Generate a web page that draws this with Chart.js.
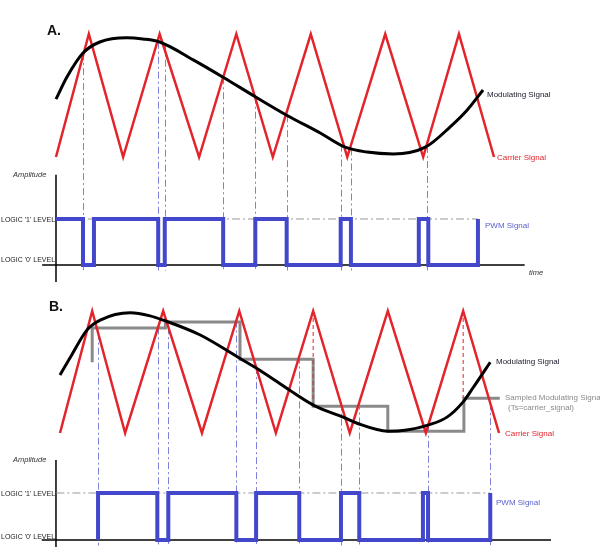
<!DOCTYPE html>
<html>
<head>
<meta charset="utf-8">
<script src="https://cdn.jsdelivr.net/npm/chart.js@4"></script>
<style>
  body { margin: 0; width: 600px; height: 547px; overflow: hidden; background: #fff; position: relative;
         font-family: 'Liberation Sans', Arial, sans-serif; }
  canvas { position: absolute; left: 0; }
  #chartA { top: 0; }
  #chartB { top: 280px; }
  .lbl { position: absolute; white-space: nowrap; transform: translateY(-50%); line-height: 1; z-index: 2; }
  .head { font-weight: bold; font-size: 14px; color: #111; }
  .small { font-size: 8px; }
  .amp { font-size: 7.5px; font-style: italic; color: #333; }
  .lvl { font-size: 7px; color: #222; }
</style>
</head>
<body>
<canvas id="chartA" width="600" height="285"></canvas>
<canvas id="chartB" width="600" height="267"></canvas>

<div class="lbl head" style="left:47px;top:30px">A.</div>
<div class="lbl small" style="left:487px;top:95px;color:#1a1a2a">Modulating Signal</div>
<div class="lbl small" style="left:497px;top:158px;color:#e3242b">Carrier Signal</div>
<div class="lbl amp" style="left:13px;top:175px">Amplitude</div>
<div class="lbl lvl" style="left:1px;top:219px">LOGIC '1' LEVEL</div>
<div class="lbl lvl" style="left:1px;top:259px">LOGIC '0' LEVEL</div>
<div class="lbl small" style="left:485px;top:226px;color:#5a5fd0">PWM Signal</div>
<div class="lbl amp" style="left:529px;top:273px">time</div>

<div class="lbl head" style="left:49px;top:306px">B.</div>
<div class="lbl small" style="left:496px;top:362px;color:#1a1a2a">Modulating Signal</div>
<div class="lbl small" style="left:505px;top:398px;color:#8a8a8a">Sampled Modulating Signal</div>
<div class="lbl small" style="left:508px;top:408px;color:#8a8a8a">(Ts=carrier_signal)</div>
<div class="lbl small" style="left:505px;top:434px;color:#e3242b">Carrier Signal</div>
<div class="lbl amp" style="left:13px;top:460px">Amplitude</div>
<div class="lbl lvl" style="left:1px;top:493px">LOGIC '1' LEVEL</div>
<div class="lbl lvl" style="left:1px;top:536px">LOGIC '0' LEVEL</div>
<div class="lbl small" style="left:496px;top:503px;color:#5a5fd0">PWM Signal</div>

<script>
// time in carrier periods, amplitude normalised to the carrier peak (+1 / -1)
// PWM level: 1 = logic '1', 0 = logic '0'

// ---- panel A: natural sampling
const carrierA_t = [0, 0.45, 0.92, 1.42, 1.96, 2.47, 2.97, 3.49, 3.99, 4.51, 5.03, 5.52, 6];
const carrierA_v = [-1, 1, -1, 1, -1, 1, -1, 1, -1, 1, -1, 1, -1];
const modA_t = [0, 0.15, 0.37, 0.6, 0.97, 1.19, 1.42, 1.88, 2.3, 2.73, 3.16, 3.62, 3.96, 4.26, 4.62, 5.06, 5.4, 5.63, 5.85];
const modA_v = [-0.06, 0.3, 0.69, 0.87, 0.94, 0.92, 0.87, 0.58, 0.29, -0.02, -0.32, -0.61, -0.84, -0.92, -0.95, -0.84, -0.51, -0.24, 0.09];
const pwmA_t = [0, 0.37, 0.52, 1.4, 1.49, 2.29, 2.73, 3.16, 3.9, 4.04, 4.97, 5.1, 5.78];
const pwmA_v = [1, 0, 1, 0, 1, 0, 1, 0, 1, 0, 1, 0, 1];
const guideA_t = [0.37, 1.4, 1.49, 2.29, 2.73, 3.16, 3.9, 4.04, 5.08];

// ---- panel B: regular (sampled) modulation
const carrierB_t = [0, 0.44, 0.89, 1.41, 1.94, 2.45, 2.95, 3.46, 3.96, 4.48, 5.0, 5.51, 6];
const carrierB_v = [-1, 1, -1, 1, -1, 1, -1, 1, -1, 1, -1, 1, -1];
const modB_t = [0, 0.16, 0.37, 0.55, 0.96, 1.23, 1.41, 1.91, 2.45, 2.73, 3.14, 3.49, 3.87, 4.06, 4.48, 4.74, 5.03, 5.29, 5.51, 5.65, 5.88];
const modB_v = [-0.05, 0.28, 0.69, 0.85, 0.97, 0.92, 0.85, 0.61, 0.23, 0.03, -0.3, -0.56, -0.74, -0.84, -0.97, -0.95, -0.87, -0.74, -0.49, -0.25, 0.16];
const sampB_t = [0.44, 0.44, 1.44, 2.46, 3.46, 4.48, 5.52, 6.01];
const sampB_v = [0.16, 0.72, 0.82, 0.21, -0.56, -0.97, -0.43, -0.43];
const sampleMarkB_t = [3.46, 5.51];
const sampleMarkB_v = [-0.56, -0.43];
const pwmB_t = [0.52, 0.52, 1.33, 1.48, 2.41, 2.68, 3.27, 3.84, 4.09, 4.96, 5.03, 5.88];
const pwmB_v = [0, 1, 0, 1, 0, 1, 0, 1, 0, 1, 0, 1];
const guideB_t = [0.52, 1.34, 1.48, 2.41, 2.68, 3.27, 3.84, 4.09, 5.03, 5.88];

const RED = '#e3242b', BLUE = '#4347cc', GREY = '#8a8a8a', GUIDE = '#7f82d8';

const pts = (ts, vs) => ts.map((t, i) => ({ x: t, y: vs[i] }));

// linear lookup on a polyline
function valueAt(ts, vs, t) {
  for (let i = 1; i < ts.length; i++) {
    if (t <= ts[i]) {
      const f = (t - ts[i - 1]) / (ts[i] - ts[i - 1] || 1);
      return vs[i - 1] + f * (vs[i] - vs[i - 1]);
    }
  }
  return vs[vs.length - 1];
}

// dash-dot drop lines from the comparison point down to the PWM time axis
const guideLines = {
  id: 'guideLines',
  beforeDatasetsDraw(chart, args, opts) {
    const { ctx, scales: { x, y, yp } } = chart;
    ctx.save();
    ctx.strokeStyle = GUIDE;
    ctx.lineWidth = 1;
    ctx.setLineDash([7, 3, 2, 3]);
    opts.times.forEach(t => {
      const px = Math.round(x.getPixelForValue(t)) + 0.5;
      ctx.beginPath();
      ctx.moveTo(px, y.getPixelForValue(valueAt(opts.curveT, opts.curveV, t)));
      ctx.lineTo(px, yp.getPixelForValue(-0.12));
      ctx.stroke();
    });
    ctx.restore();
  }
};

function makePanel(id, xr, yr, ypr, datasets, guides) {
  new Chart(document.getElementById(id), {
    type: 'line',
    data: { datasets },
    options: {
      responsive: false,
      animation: false,
      devicePixelRatio: 1,
      layout: { padding: 0 },
      elements: { point: { radius: 0 } },
      scales: {
        x: { type: 'linear', min: xr[0], max: xr[1], display: false },
        y: { min: yr[0], max: yr[1], display: false },
        yp: { min: ypr[0], max: ypr[1], display: false }
      },
      plugins: { legend: { display: false }, tooltip: { enabled: false }, guideLines: guides }
    },
    plugins: [guideLines]
  });
}

const line = (data, color, width, axis, extra) => Object.assign({
  data, borderColor: color, borderWidth: width, yAxisID: axis, fill: false, clip: false, pointRadius: 0
}, extra || {});

// panel A
makePanel('chartA', [-0.767, 7.452], [-3.081, 1.553], [-0.435, 5.761], [
  line(pts(modA_t, modA_v), '#000', 3, 'y', { cubicInterpolationMode: 'monotone' }),
  line(pts(carrierA_t, carrierA_v), RED, 2.5, 'y'),
  line(pts(pwmA_t, pwmA_v), BLUE, 4, 'yp', { stepped: 'before' }),
  line(pts([0, 5.78], [1, 1]), '#999', 1, 'yp', { borderDash: [8, 3, 2, 3] }),
  line(pts([0, 0], [-0.37, 1.96]), '#000', 1.5, 'yp'),
  line(pts([-0.19, 6.42], [0, 0]), '#000', 1.5, 'yp')
], { times: guideA_t, curveT: modA_t, curveV: modA_v });

// panel B
makePanel('chartB', [-0.82, 7.38], [-2.869, 1.508], [-0.149, 5.532], [
  line(pts(modB_t, modB_v), '#000', 3, 'y', { cubicInterpolationMode: 'monotone' }),
  line(pts(carrierB_t, carrierB_v), RED, 2.5, 'y'),
  ...sampleMarkB_t.map((t, i) => line(pts([t, t], [1, sampleMarkB_v[i]]), RED, 1, 'y', { borderDash: [4, 3] })),
  line(pts(sampB_t, sampB_v), GREY, 3, 'y', { stepped: 'before' }),
  line(pts(pwmB_t, pwmB_v), BLUE, 4, 'yp', { stepped: 'before' }),
  line(pts([-0.05, 5.88], [1, 1]), '#999', 1, 'yp', { borderDash: [8, 3, 2, 3] }),
  line(pts([-0.055, -0.055], [-0.2, 1.7]), '#000', 1.5, 'yp'),
  line(pts([-0.25, 6.71], [0, 0]), '#000', 1.5, 'yp')
], { times: guideB_t, curveT: carrierB_t, curveV: carrierB_v });
</script>
</body>
</html>
